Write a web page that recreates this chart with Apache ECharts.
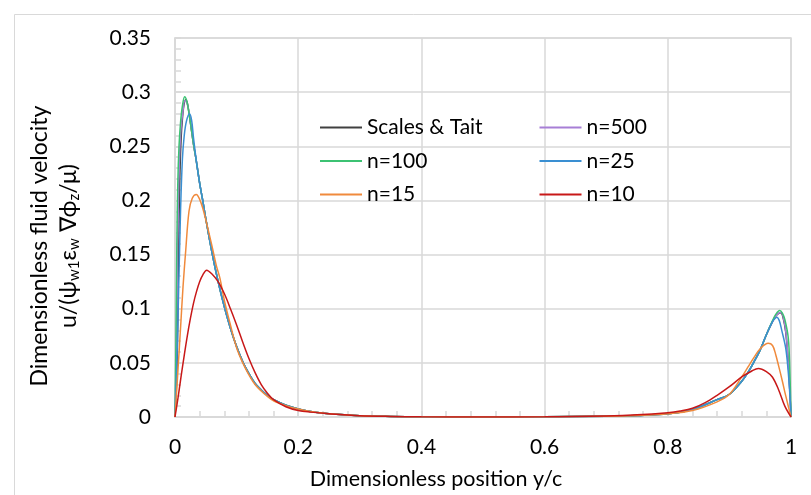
<!DOCTYPE html>
<html>
<head>
<meta charset="utf-8">
<script src="https://cdn.jsdelivr.net/npm/echarts@6/dist/echarts.min.js"></script>
<style>
  html, body { margin: 0; padding: 0; background: #fff; }
  #chart { width: 811px; height: 495px; }
</style>
</head>
<body>
<div id="chart"></div>
<script>
// values, [y/c, u]
const seriesNames = ['Scales & Tait', 'n=500', 'n=100', 'n=25', 'n=15', 'n=10']
const seriesColors = ['#404040', '#a77fd6', '#3cc273', '#3a8fd2', '#f08a3c', '#c81818']

// part shared by Scales & Tait, n=500, n=100 and n=25 (they overlap there)
const sharedMid = [
    [0.035, 0.235], [0.04, 0.216], [0.045, 0.2], [0.05, 0.183], [0.06, 0.152],
    [0.07, 0.125], [0.08, 0.102], [0.09, 0.082], [0.1, 0.065], [0.11, 0.051],
    [0.12, 0.04], [0.13, 0.031], [0.14, 0.025], [0.15, 0.02], [0.16, 0.016],
    [0.18, 0.011], [0.2, 0.0075], [0.22, 0.005], [0.25, 0.003], [0.3, 0.0012],
    [0.35, 0.0005], [0.4, 0.0002], [0.5, 0.0001], [0.6, 0.0002], [0.7, 0.0008],
    [0.75, 0.0015], [0.8, 0.003], [0.84, 0.007], [0.88, 0.016], [0.9, 0.021],
    [0.92, 0.033], [0.93, 0.041], [0.94, 0.051], [0.95, 0.062], [0.96, 0.076]
]

const scalesLeft = [[0, 0], [0.003, 0.04], [0.005, 0.11], [0.0065, 0.18], [0.008, 0.225], [0.01, 0.258],
    [0.012, 0.275], [0.0145, 0.288], [0.0173, 0.293], [0.02, 0.29], [0.023, 0.28], [0.026, 0.268], [0.03, 0.252]]
const scalesRight = [[0.97, 0.088], [0.975, 0.093], [0.98, 0.0958], [0.9835, 0.0962], [0.987, 0.092],
    [0.9913, 0.079], [0.995, 0.055], [0.998, 0.025], [1, 0]]

const n500Left = [[0, 0], [0.002, 0.06], [0.004, 0.15], [0.006, 0.215], [0.008, 0.25], [0.01, 0.268],
    [0.013, 0.283], [0.016, 0.292], [0.019, 0.291], [0.023, 0.28], [0.026, 0.268], [0.03, 0.252]]
const n500Right = [[0.97, 0.088], [0.975, 0.093], [0.98, 0.096], [0.984, 0.0965], [0.988, 0.091],
    [0.992, 0.077], [0.995, 0.055], [0.998, 0.025], [1, 0]]

const n100Left = [[0, 0], [0.0015, 0.07], [0.003, 0.16], [0.0045, 0.215], [0.0065, 0.25], [0.009, 0.272],
    [0.012, 0.287], [0.0157, 0.2957], [0.019, 0.292], [0.022, 0.283], [0.026, 0.268], [0.03, 0.252]]
const n100Right = [[0.97, 0.089], [0.975, 0.0945], [0.9816, 0.0983], [0.986, 0.096], [0.99, 0.09],
    [0.9956, 0.073], [0.998, 0.045], [1, 0]]

const n25Left = [[0, 0], [0.003, 0.05], [0.006, 0.12], [0.009, 0.19], [0.012, 0.238], [0.015, 0.26],
    [0.0185, 0.273], [0.0235, 0.28], [0.027, 0.274], [0.03, 0.258]]
const n25Right = [[0.97, 0.088], [0.974, 0.091], [0.977, 0.0922], [0.981, 0.089], [0.985, 0.08],
    [0.9913, 0.064], [0.995, 0.045], [0.998, 0.022], [1, 0]]

const n15Values = [
    [0, 0], [0.005, 0.045], [0.0092, 0.084], [0.013, 0.12], [0.0173, 0.153], [0.0227, 0.19],
    [0.028, 0.202], [0.0346, 0.2055], [0.04, 0.201], [0.045, 0.193], [0.05, 0.182], [0.06, 0.158],
    [0.067, 0.14], [0.073, 0.128], [0.08, 0.108], [0.09, 0.085], [0.1, 0.064], [0.11, 0.05],
    [0.12, 0.039], [0.13, 0.03], [0.14, 0.024], [0.15, 0.019], [0.16, 0.015], [0.18, 0.0105],
    [0.2, 0.0073], [0.22, 0.005], [0.25, 0.003], [0.3, 0.0012], [0.35, 0.0005], [0.4, 0.0002],
    [0.5, 0.0001], [0.6, 0.0002], [0.7, 0.0008], [0.75, 0.0015], [0.8, 0.003], [0.84, 0.006],
    [0.88, 0.014], [0.9, 0.021], [0.92, 0.037], [0.93, 0.046], [0.94, 0.055], [0.95, 0.063],
    [0.963, 0.068], [0.97, 0.066], [0.975, 0.058], [0.98, 0.047], [0.986, 0.033], [0.99, 0.023],
    [0.996, 0.009], [1, 0]
]

const n10Values = [
    [0, 0], [0.005, 0.018], [0.01, 0.038], [0.015, 0.057], [0.02, 0.075], [0.025, 0.091],
    [0.03, 0.105], [0.035, 0.116], [0.04, 0.125], [0.045, 0.131], [0.0514, 0.1356], [0.06, 0.132],
    [0.07, 0.125], [0.08, 0.114], [0.09, 0.1], [0.1, 0.085], [0.11, 0.069], [0.12, 0.054],
    [0.13, 0.041], [0.14, 0.03], [0.15, 0.022], [0.16, 0.016], [0.18, 0.0095], [0.2, 0.006],
    [0.22, 0.0045], [0.25, 0.003], [0.3, 0.0012], [0.35, 0.0005], [0.4, 0.0002], [0.5, 0.0001],
    [0.6, 0.0002], [0.7, 0.001], [0.75, 0.002], [0.8, 0.004], [0.82, 0.0055], [0.84, 0.008],
    [0.86, 0.013], [0.88, 0.02], [0.9, 0.028], [0.92, 0.037], [0.935, 0.042], [0.947, 0.0449],
    [0.96, 0.042], [0.97, 0.0367], [0.98, 0.025], [0.99, 0.01], [1, 0]
]

const xTicks = { min: 0, max: 1, interval: 0.2 }
const yTicks = { min: 0, max: 0.35, interval: 0.05 }

const seriesData = [
    scalesLeft.concat(sharedMid, scalesRight),
    n500Left.concat(sharedMid, n500Right),
    n100Left.concat(sharedMid, n100Right),
    n25Left.concat(sharedMid, n25Right),
    n15Values,
    n10Values
]

const fontFamily = 'Lato'
const gridColor = '#d9d9d9'
const textColor = '#000'

const chart = echarts.init(document.getElementById('chart'), null, { renderer: 'canvas' })

const series = seriesNames.map(function (name, i) {
    return {
        name: name,
        type: 'line',
        data: seriesData[i],
        smooth: 0.35,
        symbol: 'none',
        lineStyle: { color: seriesColors[i], width: 1.5 },
        itemStyle: { color: seriesColors[i] },
        z: 2 + i
    }
})

const option = {
    animation: false,
    backgroundColor: '#fff',
    textStyle: { fontFamily: fontFamily },
    graphic: [{
        type: 'rect',
        left: 12,
        top: 12,
        shape: { width: 820, height: 500 },
        style: { fill: 'none', stroke: gridColor, lineWidth: 1 },
        silent: true
    }],
    legend: {
        left: 319,
        top: 117,
        width: 440,
        padding: 0,
        itemWidth: 42,
        itemHeight: 14,
        itemGap: 12.5,
        itemStyle: { opacity: 0 },
        textStyle: {
            fontFamily: fontFamily,
            fontSize: 21,
            color: textColor,
            width: 159,
            lineHeight: 20
        },
        data: seriesNames
    },
    grid: {
        left: 175,
        right: 20,
        top: 38,
        bottom: 74,
        show: true,
        borderColor: gridColor,
        borderWidth: 1.5
    },
    xAxis: {
        type: 'value',
        min: xTicks.min,
        max: xTicks.max,
        interval: xTicks.interval,
        name: 'Dimensionless position y/c',
        nameLocation: 'middle',
        nameGap: 51,
        nameTextStyle: { fontSize: 21.5, color: textColor, padding: [0, 94, 0, 0] },
        axisLine: { lineStyle: { color: gridColor, width: 1.5 } },
        axisTick: { show: true, inside: true, length: 6, lineStyle: { color: gridColor, width: 1.5 } },
        minorTick: { show: true, splitNumber: 5, length: 6, lineStyle: { color: gridColor, width: 1.5 } },
        axisLabel: { fontSize: 21, color: textColor, margin: 20 },
        splitLine: { show: true, lineStyle: { color: gridColor, width: 1.5 } }
    },
    yAxis: {
        type: 'value',
        min: yTicks.min,
        max: yTicks.max,
        interval: yTicks.interval,
        name: '{n|Dimensionless fluid velocity}\n{n|u/(ψ}{s|w1}{n|ε}{s|w}{n| ∇ϕ}{s|z}{n|/μ)}',
        nameLocation: 'middle',
        nameRotate: 90,
        nameGap: 92,
        nameTextStyle: {
            color: textColor,
            padding: [0, 37, 0, 0],
            rich: {
                n: { fontSize: 23, lineHeight: 29, color: textColor, fontFamily: fontFamily },
                s: { fontSize: 15, lineHeight: 29, color: textColor, fontFamily: fontFamily, padding: [12, 0, 0, 0] }
            }
        },
        axisLine: { show: true, lineStyle: { color: gridColor, width: 1.5 } },
        axisTick: { show: true, inside: true, length: 6, lineStyle: { color: gridColor, width: 1.5 } },
        minorTick: { show: true, splitNumber: 5, length: 6, lineStyle: { color: gridColor, width: 1.5 } },
        axisLabel: { fontSize: 21, color: textColor, margin: 24 },
        splitLine: { show: true, lineStyle: { color: gridColor, width: 1.5 } }
    },
    series: series
}

chart.setOption(option)
</script>
</body>
</html>
